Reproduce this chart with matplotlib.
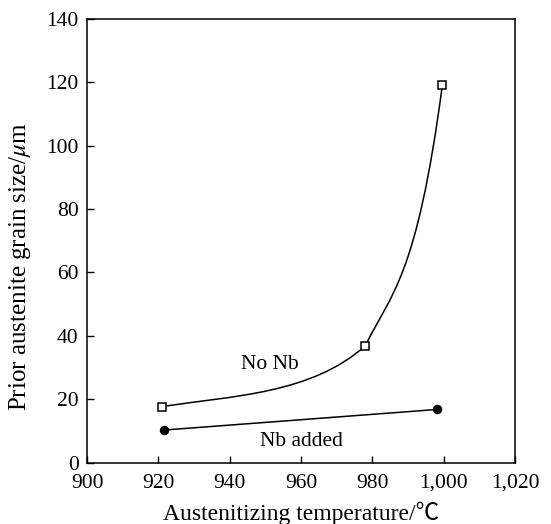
import matplotlib
matplotlib.use("Agg")
import matplotlib.pyplot as plt
from matplotlib.path import Path
from matplotlib.patches import PathPatch

plt.rcParams['font.family'] = ['Liberation Serif', 'Noto Sans CJK SC', 'DejaVu Sans']
plt.rcParams['mathtext.fontset'] = 'stix'

# Data
temp_no_nb = [921, 978, 999.6]
size_no_nb = [17.7, 36.9, 119.2]
temp_nb = [921.6, 998.2]
size_nb = [10.3, 16.8]

x_ticks = [900, 920, 940, 960, 980, 1000, 1020]
x_tick_labels = ['900', '920', '940', '960', '980', '1,000', '1,020']
y_ticks = [0, 20, 40, 60, 80, 100, 120, 140]

# curve shape: tangent slopes (data units) at segment ends
seg_slopes = [(0.17, 1.01), (2.3, 8.5)]
seg_handles = [(20, 15), (7.2, 7.2)]

fig = plt.figure(figsize=(5.51, 5.24), dpi=100)
ax = fig.add_axes([0.158, 0.117, 0.777, 0.847])


def smooth_path(xs, ys, slopes, handles):
    verts = [(xs[0], ys[0])]
    codes = [Path.MOVETO]
    for i in range(len(xs) - 1):
        s0, s1 = slopes[i]
        a, b = handles[i]
        verts += [(xs[i] + a, ys[i] + s0 * a),
                  (xs[i + 1] - b, ys[i + 1] - s1 * b),
                  (xs[i + 1], ys[i + 1])]
        codes += [Path.CURVE4] * 3
    return Path(verts, codes)


ax.add_patch(PathPatch(smooth_path(temp_no_nb, size_no_nb, seg_slopes, seg_handles),
                       facecolor='none', edgecolor='black', lw=1.1, zorder=2))
ax.plot(temp_no_nb, size_no_nb, linestyle='none', marker='s', ms=6.3,
        mfc='white', mec='black', mew=1.1, zorder=3)

ax.plot(temp_nb, size_nb, color='black', lw=1.1, marker='o', ms=5.8,
        mfc='black', mec='black', zorder=3)

ax.text(951.3, 31.1, 'No Nb', ha='center', va='center', fontsize=15.5)
ax.text(960.1, 6.8, 'Nb added', ha='center', va='center', fontsize=15.5)

ax.set_xlim(900, 1020)
ax.set_ylim(0, 140)
ax.set_xticks(x_ticks)
ax.set_xticklabels(x_tick_labels)
ax.set_yticks(y_ticks)
ax.tick_params(direction='in', length=5, width=1, labelsize=15.5,
               top=False, right=False)
ax.tick_params(axis='x', pad=8)
ax.tick_params(axis='y', pad=6)
for sp in ax.spines.values():
    sp.set_linewidth(1.1)

ax.set_xlabel('Austenitizing temperature/\u2103', fontsize=17)
ax.set_ylabel('Prior austenite grain size/$\\mu$m', fontsize=18)
ax.xaxis.set_label_coords(0.5, -0.087)
ax.yaxis.set_label_coords(-0.126, 0.441)

fig.savefig('out.png', dpi=100)
